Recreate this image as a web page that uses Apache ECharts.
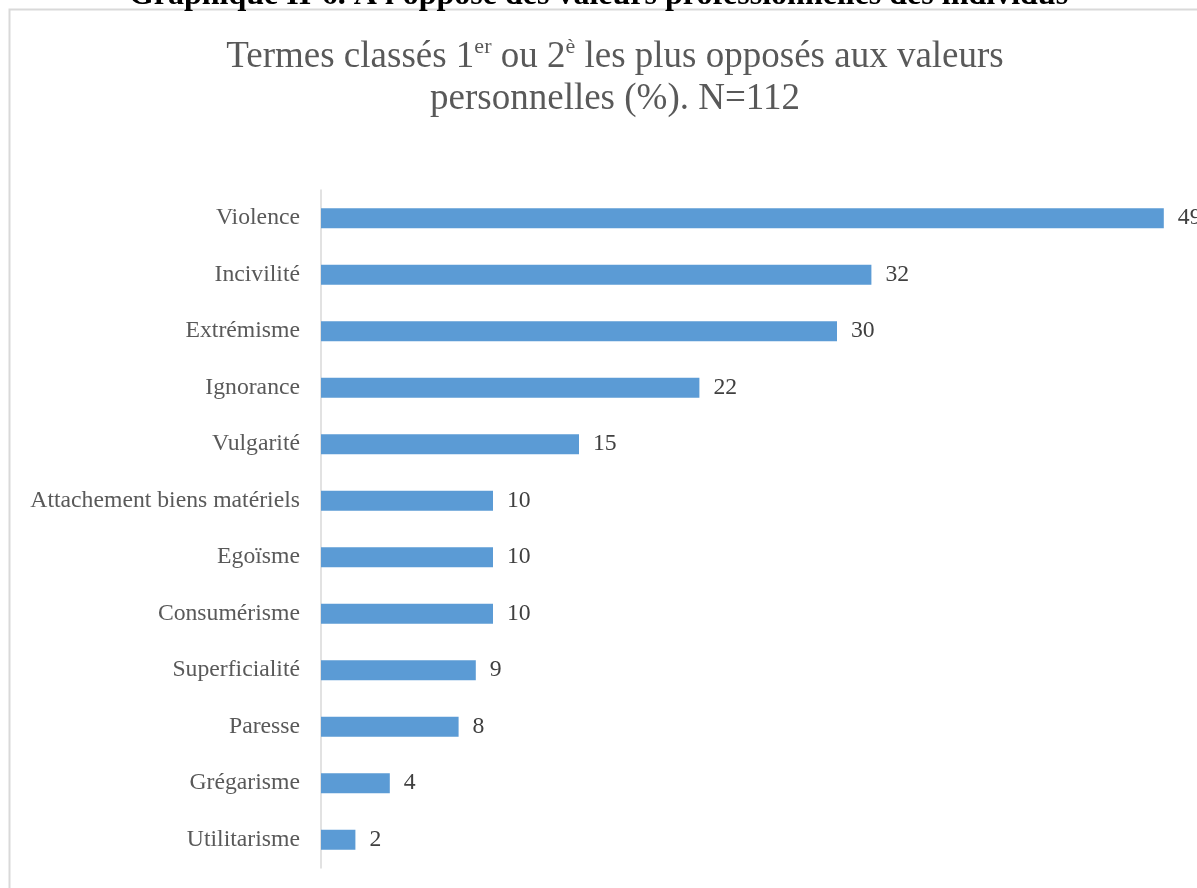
<html>
<head>
    <meta charset="utf-8">
    <script src='https://cdn.jsdelivr.net/npm/echarts@6/dist/echarts.min.js'></script>
    <style>
        html, body, #main {
            width: 100%;
            height: 100%;
            margin: 0;
            background: #fff;
        }
    </style>
</head>
<body>
<div id='main'></div>
<script>
    // categories, top to bottom as they appear
    var categories = ['Violence', 'Incivilité', 'Extrémisme', 'Ignorance', 'Vulgarité',
        'Attachement biens matériels', 'Egoïsme', 'Consumérisme', 'Superficialité',
        'Paresse', 'Grégarisme', 'Utilitarisme'];
    var values = [49, 32, 30, 22, 15, 10, 10, 10, 9, 8, 4, 2];

    var chart = echarts.init(document.getElementById('main'));

    var serif = '"Liberation Serif", "DejaVu Serif", serif';

    var option = {
        backgroundColor: '#fff',
        title: {
            text: 'Termes classés 1{sup|er} ou 2{sup|è} les plus opposés aux valeurs\npersonnelles (%). N=112',
            left: 610,
            top: 31,
            textAlign: 'center',
            textStyle: {
                fontFamily: serif,
                fontSize: 37,
                fontWeight: 'normal',
                color: '#595959',
                lineHeight: 42,
                rich: {
                    sup: {
                        fontFamily: serif,
                        fontSize: 22,
                        color: '#595959',
                        verticalAlign: 'top',
                        lineHeight: 36
                    }
                }
            }
        },
        graphic: [
            {
                type: 'rect',
                shape: {x: 9.5, y: 9.5, width: 1400, height: 1000},
                style: {fill: 'none', stroke: '#d9d9d9', lineWidth: 2},
                silent: true
            },
            {
                type: 'text',
                left: 'center',
                top: -20,
                style: {
                    text: 'Graphique II-6. A l\'opposé des valeurs professionnelles des individus',
                    font: 'bold 32px "Liberation Serif", serif',
                    fill: '#000'
                }
            }
        ],
        grid: {
            left: 321,
            right: 16,
            top: 190,
            bottom: 20,
            containLabel: false
        },
        xAxis: {
            type: 'value',
            min: 0,
            max: 50,
            show: false
        },
        yAxis: {
            type: 'category',
            inverse: true,
            data: categories,
            axisLine: {lineStyle: {color: '#d9d9d9', width: 1.5}},
            axisTick: {show: false},
            axisLabel: {
                fontFamily: serif,
                fontSize: 23.7,
                color: '#595959',
                margin: 21,
                padding: [4, 0, 0, 0]
            }
        },
        series: [{
            type: 'bar',
            data: values,
            barWidth: 20,
            itemStyle: {color: '#5b9bd5'},
            label: {
                show: true,
                position: 'right',
                distance: 14,
                fontFamily: serif,
                fontSize: 23.7,
                color: '#404040',
                padding: [4, 0, 0, 0]
            }
        }]
    };

    chart.setOption(option);
</script>
</body>
</html>
